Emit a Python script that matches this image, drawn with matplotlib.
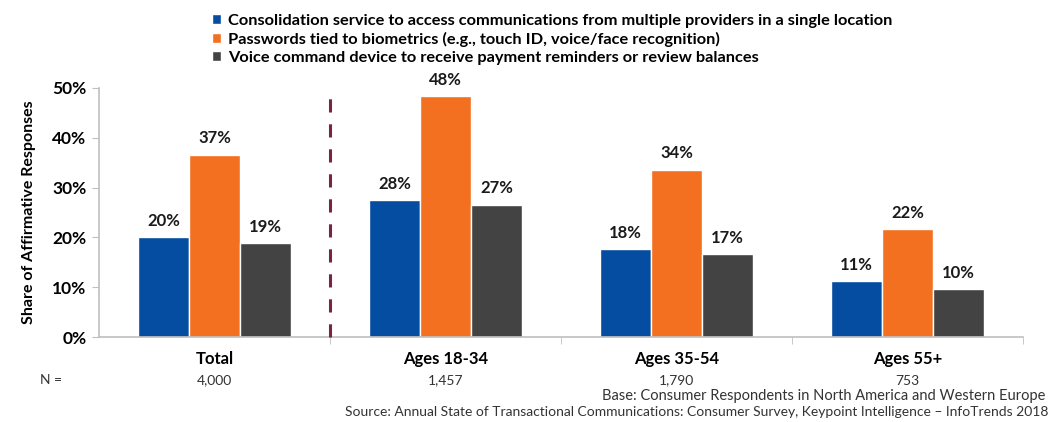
import numpy as np
import matplotlib
matplotlib.use("Agg")
import matplotlib.pyplot as plt
import matplotlib.transforms as mtransforms

plt.rcParams['font.family'] = ['Lato', 'DejaVu Sans']
plt.rcParams['lines.scale_dashes'] = False

categorias = ["Total", "Ages 18-34", "Ages 35-54", "Ages 55+"]
n_base = ["4,000", "1,457", "1,790", "753"]
series = [
    "Consolidation service to access communications from multiple providers in a single location",
    "Passwords tied to biometrics (e.g., touch ID, voice/face recognition)",
    "Voice command device to receive payment reminders or review balances",
]
consolidacion = [20.1, 27.5, 17.7, 11.2]
biometria = [36.6, 48.3, 33.6, 21.7]
voz = [18.9, 26.6, 16.7, 9.6]
colores = ["#054DA1", "#F37021", "#434343"]

fig = plt.figure(figsize=(10.57, 4.22), dpi=100)
ax = fig.add_axes([0.0937, 0.2014, 0.8741, 0.5901])

x = np.arange(len(categorias))
ancho = 0.22
for i, (vals, col, nombre) in enumerate(zip([consolidacion, biometria, voz], colores, series)):
    pos = x + (i - 1) * ancho
    ax.bar(pos, vals, width=ancho, color=col, edgecolor="white", linewidth=1, label=nombre, zorder=2)
    for px, v in zip(pos, vals):
        ax.annotate(f"{v:.0f}%", (px, v), xytext=(0, 6), textcoords="offset points",
                    ha="center", va="bottom", fontsize=12, fontweight="bold", color="#1a1a1a")

# separador entre Total y los grupos de edad
ax.plot([0.5, 0.5], [0, 50], color="#7B2346", lw=2.2, dashes=(9.5, 8.5), zorder=3, clip_on=False)

ax.set_xlim(-0.5, 3.5)
ax.set_ylim(0, 50)
ax.set_yticks(range(0, 51, 10))
ax.set_yticklabels([f"{t}%" for t in range(0, 51, 10)], fontsize=12.5, fontweight="bold")
ax.set_xticks(x)
ax.set_xticklabels(categorias, fontsize=12, fontweight="bold")
ax.tick_params(axis="x", which="major", length=0, pad=10)
ax.set_xticks([0.5, 1.5, 2.5, 3.5], minor=True)
ax.tick_params(axis="x", which="minor", length=5, color="#bfbfbf", direction="out")
ax.tick_params(axis="y", length=5, color="#bfbfbf", pad=4)
for s in ["top", "right"]:
    ax.spines[s].set_visible(False)
ax.spines["left"].set_color("#bfbfbf")
ax.spines["bottom"].set_color("#bfbfbf")
ax.spines["left"].set_linewidth(1.2)
ax.spines["bottom"].set_linewidth(1.2)
ax.set_ylabel("Share of Affirmative Responses", fontsize=11.5, fontweight="bold", labelpad=12)

trans = mtransforms.blended_transform_factory(ax.transData, ax.transAxes)
for xi, n in zip(x, n_base):
    ax.text(xi, -0.175, n, transform=trans, ha="center", va="center", fontsize=10, color="#333333")
fig.text(40 / 1057, 1 - 380 / 422, "N =", ha="left", va="center", fontsize=10, color="#333333")

fig.legend(loc="upper left", bbox_to_anchor=(205 / 1057, 1 - 7 / 422), frameon=False,
           prop={"size": 11.8, "weight": "bold"}, handlelength=0.6, handleheight=0.6,
           handletextpad=0.4, labelspacing=0.25, borderaxespad=0)

fig.text(1045 / 1057, 1 - 396 / 422, "Base: Consumer Respondents in North America and Western Europe",
         ha="right", va="center", fontsize=10.5, color="#333333")
fig.text(1048 / 1057, 1 - 412 / 422,
         "Source: Annual State of Transactional Communications: Consumer Survey, Keypoint Intelligence \u2013 InfoTrends 2018",
         ha="right", va="center", fontsize=10, color="#333333")

fig.savefig("out.png", dpi=100)
